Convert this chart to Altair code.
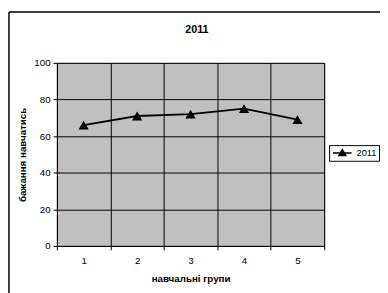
import altair as alt
import pandas as pd

groups = [1, 2, 3, 4, 5]
values = [66, 71, 72, 75, 69]
series = ["2011"] * 5
x_ticks = [0.5, 1, 1.5, 2, 2.5, 3, 3.5, 4, 4.5, 5, 5.5]
y_ticks = [0, 20, 40, 60, 80, 100]
title_text = ["2011"]

df = pd.DataFrame({"group": groups, "value": values, "series": series})
frame_df = pd.DataFrame({"f": [0]})
title_df = pd.DataFrame({"t": title_text})

W, H = 273, 187
FONT = "Liberation Sans"

half = "datum.value % 1 != 0"
x_enc = alt.X(
    "group:Q",
    scale=alt.Scale(domain=[0.5, 5.5], nice=False, zero=False),
    axis=alt.Axis(
        values=x_ticks,
        labelExpr="datum.value % 1 == 0 ? '' + datum.value : ''",
        tickColor={"condition": {"test": half, "value": "black"}, "value": "transparent"},
        gridColor={"condition": {"test": half, "value": "black"}, "value": "transparent"},
        grid=True,
        labelOverlap=False,
        title="навчальні групи",
        titlePadding=8,
        labelPadding=6,
        tickSize=4,
        domainColor="black",
        labelFlush=False,
    ),
)
y_enc = alt.Y(
    "value:Q",
    scale=alt.Scale(domain=[0, 100], nice=False),
    axis=alt.Axis(
        values=y_ticks,
        grid=True,
        gridColor="black",
        tickColor="black",
        domainColor="black",
        labelOverlap=False,
        tickSize=4,
        labelPadding=3,
        title="бажання навчатись",
        titlePadding=6,
    ),
)

base = alt.Chart(df)
line = base.mark_line(color="black", strokeWidth=2).encode(x=x_enc, y=y_enc)
pts = base.mark_point(shape="triangle-up", filled=True, size=110, opacity=1).encode(
    x=x_enc,
    y=y_enc,
    color=alt.Color(
        "series:N",
        scale=alt.Scale(domain=["2011"], range=["black"]),
        legend=alt.Legend(
            title=None,
            orient="none",
            legendX=278,
            legendY=84,
            strokeColor="black",
            fillColor="white",
            padding=2,
            symbolType="M-0.8,0L3,0M1.1,-0.7L1.8,0.5L0.4,0.5Z",
            symbolSize=100,
            symbolStrokeColor="black",
            symbolFillColor="black",
            symbolStrokeWidth=1.5,
            labelFont=FONT,
            labelFontSize=9.5,
            labelColor="black",
            labelOffset=14,
        ),
    ),
)

frame_left = alt.Chart(frame_df).mark_rule(color="black", strokeWidth=1.5).encode(
    x=alt.value(-49), y=alt.value(-52), y2=alt.value(H + 80)
)
frame_top = alt.Chart(frame_df).mark_rule(color="black", strokeWidth=1.5).encode(
    x=alt.value(-49), x2=alt.value(W + 80), y=alt.value(-52)
)
title = alt.Chart(title_df).mark_text(
    font=FONT, fontSize=11, fontWeight="bold", color="black", baseline="middle", align="center"
).encode(x=alt.value(143), y=alt.value(-34), text="t:N")

chart = (
    alt.layer(frame_left, frame_top, title, line, pts)
    .properties(
        width=W,
        height=H,
        autosize=alt.AutoSizeParams(type="none"),
        padding={"left": 50, "top": 53, "right": 57, "bottom": 45},
        background="white",
    )
    .configure_view(fill="#c0c0c0", stroke="#808080", strokeWidth=1)
    .configure_axis(
        labelFont=FONT,
        labelFontSize=10,
        labelColor="black",
        titleFont=FONT,
        titleFontSize=10,
        titleFontWeight="bold",
        titleColor="black",
        gridWidth=1,
        domainWidth=1,
    )
)

chart.save("out.html", embed_options={"renderer": "svg", "actions": False})
